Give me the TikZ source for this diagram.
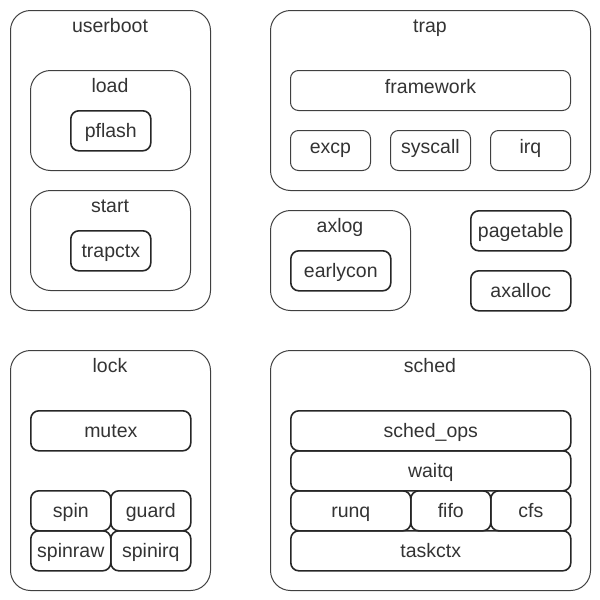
\documentclass[tikz,border=0pt]{standalone}
\usepackage{fontspec}
\setmainfont{Liberation Sans}
\begin{document}
\begin{tikzpicture}[x=1pt,y=-1pt,
  base/.style={anchor=north west, inner sep=0pt, rounded corners=#1, text=black!80},
  outerbox/.style={base=20pt, draw=black!75, line width=1pt},
  thinbox/.style={base=8pt, draw=black!75, line width=1pt, font=\fontsize{19.5}{21}\selectfont, text height=6.6pt, text depth=0pt},
  leafbox/.style={base=8pt, draw=black!85, line width=1.6pt, font=\fontsize{19.5}{21}\selectfont, text height=14pt, text depth=0pt},
  titletext/.style={anchor=base, text=black!80, font=\fontsize{19.5}{21}\selectfont, inner sep=0pt}]
\useasboundingbox (0,0) rectangle (600,600);
% userboot
\node[outerbox, minimum width=200pt, minimum height=300pt] (userboot) at (10,10) {};
\node[titletext] (userboot-t) at (110,32) {userboot};
\node[outerbox, minimum width=160pt, minimum height=100pt] (load) at (30,70) {};
\node[titletext] (load-t) at (110,92) {load};
\node[leafbox, minimum width=80pt, minimum height=40pt] (pflash) at (70,110) {pflash};
\node[outerbox, minimum width=160pt, minimum height=100pt] (start) at (30,190) {};
\node[titletext] (start-t) at (110,212) {start};
\node[leafbox, minimum width=80pt, minimum height=40pt] (trapctx) at (70,230) {trapctx};
% trap
\node[outerbox, minimum width=320pt, minimum height=180pt] (trap) at (270,10) {};
\node[titletext] (trap-t) at (430,32) {trap};
\node[thinbox, minimum width=280pt, minimum height=40pt] (framework) at (290,70) {framework};
\node[thinbox, minimum width=80pt, minimum height=40pt] (excp) at (290,130) {excp};
\node[thinbox, minimum width=80pt, minimum height=40pt] (syscall) at (390,130) {syscall};
\node[thinbox, minimum width=80pt, minimum height=40pt] (irq) at (490,130) {irq};
% axlog
\node[outerbox, minimum width=140pt, minimum height=100pt] (axlog) at (270,210) {};
\node[titletext] (axlog-t) at (340,232) {axlog};
\node[leafbox, minimum width=100pt, minimum height=40pt] (earlycon) at (290,250) {earlycon};
% pagetable, axalloc
\node[leafbox, minimum width=100pt, minimum height=40pt] (pagetable) at (470,210) {pagetable};
\node[leafbox, minimum width=100pt, minimum height=40pt] (axalloc) at (470,270) {axalloc};
% lock
\node[outerbox, minimum width=200pt, minimum height=240pt] (lock) at (10,350) {};
\node[titletext] (lock-t) at (110,372) {lock};
\node[leafbox, minimum width=160pt, minimum height=40pt] (mutex) at (30,410) {mutex};
\node[leafbox, minimum width=80pt, minimum height=40pt] (spin) at (30,490) {spin};
\node[leafbox, minimum width=80pt, minimum height=40pt] (guard) at (110,490) {guard};
\node[leafbox, minimum width=80pt, minimum height=40pt] (spinraw) at (30,530) {spinraw};
\node[leafbox, minimum width=80pt, minimum height=40pt] (spinirq) at (110,530) {spinirq};
% sched
\node[outerbox, minimum width=320pt, minimum height=240pt] (sched) at (270,350) {};
\node[titletext] (sched-t) at (430,372) {sched};
\node[leafbox, minimum width=280pt, minimum height=40pt] (schedops) at (290,410) {sched\_ops};
\node[leafbox, minimum width=280pt, minimum height=40pt] (waitq) at (290,450) {waitq};
\node[leafbox, minimum width=120pt, minimum height=40pt] (runq) at (290,490) {runq};
\node[leafbox, minimum width=80pt, minimum height=40pt] (fifo) at (410,490) {fifo};
\node[leafbox, minimum width=80pt, minimum height=40pt] (cfs) at (490,490) {cfs};
\node[leafbox, minimum width=280pt, minimum height=40pt] (taskctx) at (290,530) {taskctx};
\end{tikzpicture}
\end{document}
